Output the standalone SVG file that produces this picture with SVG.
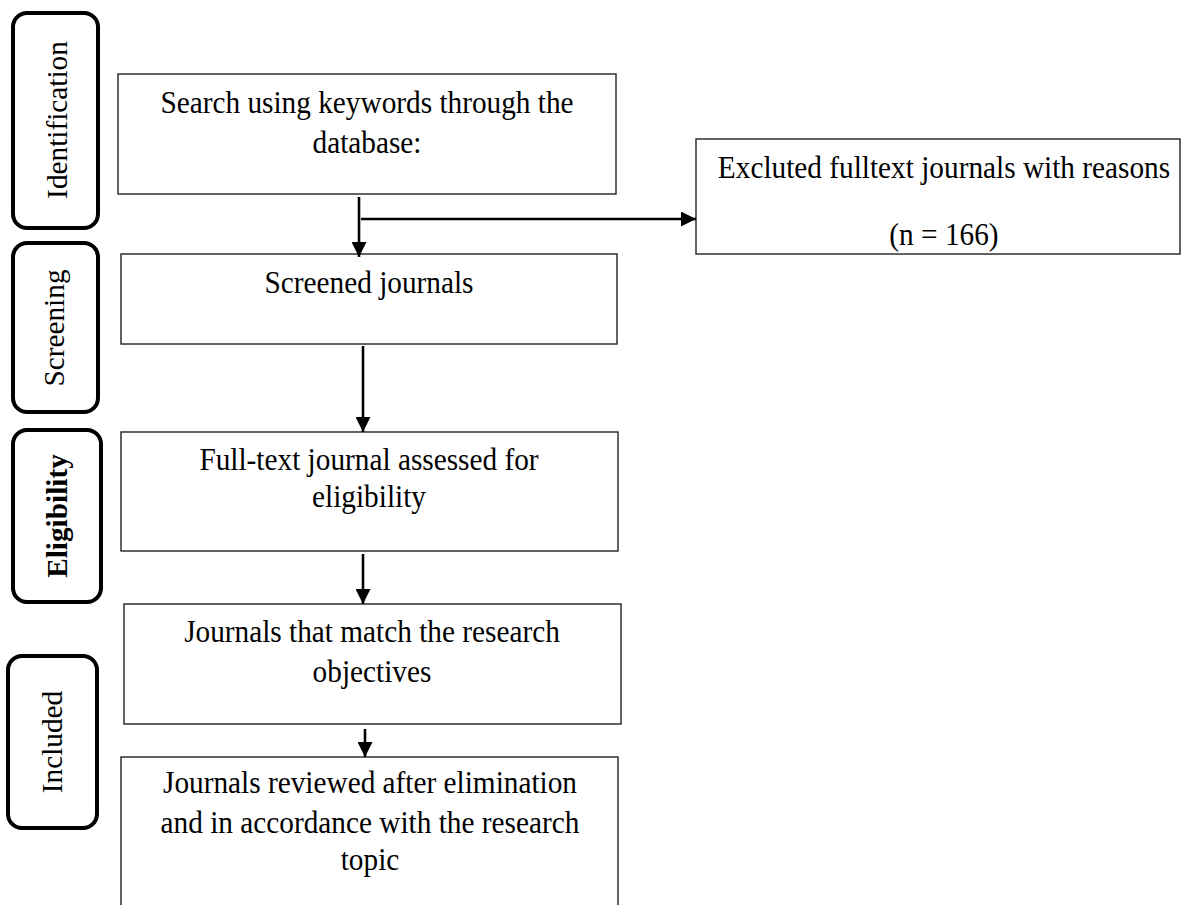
<svg xmlns="http://www.w3.org/2000/svg" width="1181" height="905" viewBox="0 0 1181 905">
<style>
.stage{fill:#fff;stroke:#000;stroke-width:4}
.box{fill:#fff;stroke:#222;stroke-width:1.4}
.t{font-family:"Liberation Serif","Times New Roman",serif;font-size:29.3px;fill:#000;text-anchor:middle}
.b{font-weight:bold}
.c{stroke:#000;stroke-width:2.6;fill:none}
</style>
<defs>
<marker id="ah" markerUnits="userSpaceOnUse" markerWidth="15" markerHeight="15" refX="15" refY="7.5" orient="auto">
<path d="M0,0 L15,7.5 L0,15 Z" fill="#000"/>
</marker>
</defs>
<rect width="1181" height="905" fill="#fff"/>

<g id="stage-identification">
<rect class="stage" x="13" y="13" width="85" height="215" rx="14"/>
<text class="t" transform="translate(67,120) rotate(-90) scale(1,1.04)">Identification</text>
</g>
<g id="stage-screening">
<rect class="stage" x="13" y="243" width="85" height="169" rx="14"/>
<text class="t" transform="translate(64,328) rotate(-90) scale(1,1.04)">Screening</text>
</g>
<g id="stage-eligibility">
<rect class="stage" x="13" y="430" width="88" height="172" rx="14"/>
<text class="t b" transform="translate(67,516) rotate(-90) scale(1,1.04)">Eligibility</text>
</g>
<g id="stage-included">
<rect class="stage" x="8" y="656" width="89" height="172" rx="14"/>
<text class="t" transform="translate(62,742) rotate(-90) scale(1,1.04)">Included</text>
</g>

<g id="node-search">
<rect class="box" x="118" y="74" width="498" height="120"/>
<text class="t" transform="matrix(1,0,0,1.08,367,113)">Search using keywords through the</text>
<text class="t" transform="matrix(1,0,0,1.08,367,153)">database:</text>
</g>
<g id="node-excluded">
<rect class="box" x="696" y="139" width="484" height="115"/>
<text class="t" transform="matrix(1,0,0,1.08,944,178)">Excluted fulltext journals with reasons</text>
<text class="t" transform="matrix(1,0,0,1.08,944,245)">(n = 166)</text>
</g>
<g id="node-screened">
<rect class="box" x="121" y="254" width="496" height="90"/>
<text class="t" transform="matrix(1,0,0,1.08,369,293)">Screened journals</text>
</g>
<g id="node-fulltext">
<rect class="box" x="121" y="432" width="497" height="119"/>
<text class="t" transform="matrix(1,0,0,1.08,369,470)">Full-text journal assessed for</text>
<text class="t" transform="matrix(1,0,0,1.08,369,507)">eligibility</text>
</g>
<g id="node-match">
<rect class="box" x="124" y="604" width="497" height="120"/>
<text class="t" transform="matrix(1,0,0,1.08,372,642)">Journals that match the research</text>
<text class="t" transform="matrix(1,0,0,1.08,372,682)">objectives</text>
</g>
<g id="node-reviewed">
<rect class="box" x="121" y="757" width="497" height="160"/>
<text class="t" transform="matrix(1,0,0,1.08,370,793)">Journals reviewed after elimination</text>
<text class="t" transform="matrix(1,0,0,1.08,370,833)">and in accordance with the research</text>
<text class="t" transform="matrix(1,0,0,1.08,370,870)">topic</text>
</g>

<g id="connectors">
<line class="c" x1="359" y1="197" x2="359" y2="257" marker-end="url(#ah)"/>
<line class="c" x1="361" y1="219" x2="696" y2="219" marker-end="url(#ah)"/>
<line class="c" x1="363" y1="346" x2="363" y2="432" marker-end="url(#ah)"/>
<line class="c" x1="363" y1="554" x2="363" y2="604" marker-end="url(#ah)"/>
<line class="c" x1="365" y1="729" x2="365" y2="757" marker-end="url(#ah)"/>
</g>
</svg>
